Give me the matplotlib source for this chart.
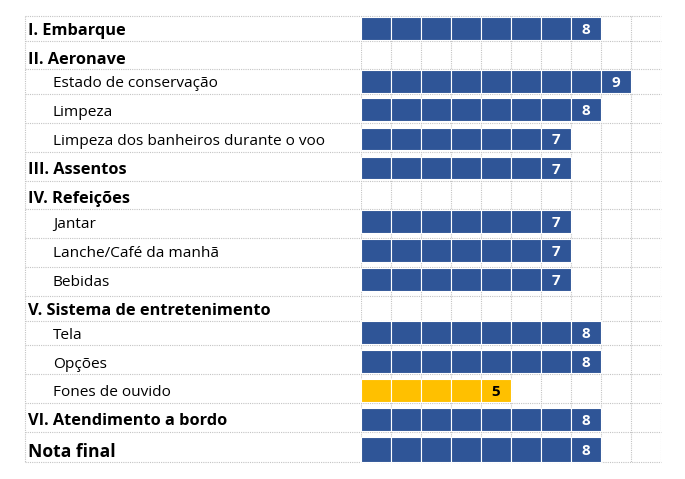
import matplotlib
matplotlib.use("Agg")
import matplotlib.pyplot as plt

plt.rcParams["font.family"] = ["Open Sans", "DejaVu Sans"]

# Table content
labels = [
    "I. Embarque",
    "II. Aeronave",
    "Estado de conservação",
    "Limpeza",
    "Limpeza dos banheiros durante o voo",
    "III. Assentos",
    "IV. Refeições",
    "Jantar",
    "Lanche/Café da manhã",
    "Bebidas",
    "V. Sistema de entretenimento",
    "Tela",
    "Opções",
    "Fones de ouvido",
    "VI. Atendimento a bordo",
    "Nota final",
]
is_header = [1, 1, 0, 0, 0, 1, 1, 0, 0, 0, 1, 0, 0, 0, 1, 1]
scores = [8, None, 9, 8, 7, 7, None, 7, 7, 7, None, 8, 8, 5, 8, 8]
max_score = 10
low_threshold = 6

# Layout (pixels): row grid lines and small shifts of the content inside each row
row_lines = [16, 41, 69, 93.5, 122.5, 152, 181, 209.3, 238.3, 267.3, 296,
             320.5, 344.5, 373.5, 402.5, 432, 462]
row_shift = [0, 3, 0, 1.8, 1.6, 1.5, 2, -2.2, -2.2, -2.2, 1,
             0, 2.3, 2.3, 2.0, 2.2]

BLUE = "#2F5597"
YELLOW = "#FFC000"
GRID = "#C4C4C4"
W, H = 685, 479
LEFT, BAR_X, CELL = 25, 361, 30

fig = plt.figure(figsize=(W / 100, H / 100), dpi=100)
bg = fig.add_axes([0, 0, 1, 1])
bg.set_xlim(0, W)
bg.set_ylim(H, 0)
bg.axis("off")

bars = fig.add_axes([BAR_X / W, 0, CELL * max_score / W, 1])
bars.set_xlim(0, max_score)
bars.set_ylim(H, 0)
bars.axis("off")
bars.patch.set_visible(False)

grid_kw = dict(color=GRID, linewidth=0.8, linestyle=(0, (1, 1)), zorder=1)
bg.hlines(row_lines, LEFT, BAR_X + CELL * max_score, **grid_kw)
bg.vlines([LEFT], row_lines[0], row_lines[-1], **grid_kw)
bars.vlines(range(max_score + 1), row_lines[0], row_lines[-1], **grid_kw)

size_regular, size_bold, size_final = 11.1, 11.8, 12.6

for i, (lab, head, sc) in enumerate(zip(labels, is_header, scores)):
    top, bottom = row_lines[i], row_lines[i + 1]
    last = i == len(labels) - 1
    yc = (top + bottom) / 2 + row_shift[i]
    x = 28 if head else 53
    size = size_final if last else (size_bold if head else size_regular)
    bg.text(x, yc + (8 if last else 6.2), lab, ha="left", va="baseline",
            fontsize=size, fontweight="bold" if head else "normal",
            color="black")
    if sc is None:
        continue
    bh = 25 if last else 22.7
    col = YELLOW if sc < low_threshold else BLUE
    bars.barh([yc] * sc, 1, left=range(sc), height=bh, color=col,
              edgecolor="white", linewidth=0.8, zorder=3)
    bars.text(sc - 0.5, yc, str(sc), ha="center", va="center_baseline",
              fontsize=11, fontweight="bold",
              color="black" if sc < low_threshold else "white", zorder=4)

fig.savefig("out.png", dpi=100)
